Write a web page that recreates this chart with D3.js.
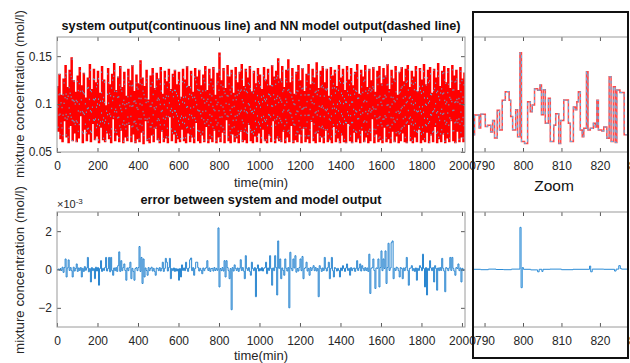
<!DOCTYPE html>
<html><head><meta charset="utf-8">
<script src="https://cdn.jsdelivr.net/npm/d3@7"></script>
<style>html,body{margin:0;padding:0;background:#fff;overflow:hidden}</style>
</head><body>
<svg id="chart" width="630" height="363"></svg>
<script>
// ---------- DATA ----------
// sampling grid of the long records (min)
const outputTime = d3.range(0, 2015, 5);
// system output (mol/l), one row per 100 min
const systemOutput = [
0.118,0.072,0.131,0.064,0.109,0.061,0.126,0.083,0.140,0.066,0.117,0.060,0.135,0.078,0.148,0.062,0.124,0.070,0.112,0.061,
0.129,0.065,0.138,0.088,0.119,0.060,0.132,0.074,0.106,0.062,0.127,0.069,0.141,0.061,0.115,0.080,0.136,0.063,0.122,0.067,
0.134,0.060,0.111,0.076,0.139,0.063,0.125,0.061,0.098,0.070,0.137,0.064,0.120,0.060,0.131,0.085,0.142,0.062,0.114,0.068,
0.128,0.061,0.139,0.073,0.117,0.060,0.133,0.066,0.108,0.062,0.136,0.079,0.124,0.061,0.140,0.069,0.113,0.060,0.130,0.064,
0.121,0.061,0.145,0.071,0.127,0.059,0.118,0.083,0.135,0.062,0.104,0.060,0.129,0.068,0.137,0.061,0.116,0.075,0.132,0.063,
0.126,0.060,0.138,0.072,0.110,0.061,0.134,0.065,0.123,0.060,0.136,0.087,0.115,0.062,0.131,0.069,0.135,0.060,0.120,0.064,
0.133,0.061,0.107,0.074,0.136,0.062,0.125,0.060,0.139,0.070,0.118,0.061,0.134,0.066,0.112,0.060,0.137,0.081,0.128,0.062,
0.135,0.060,0.119,0.068,0.130,0.061,0.139,0.077,0.114,0.060,0.136,0.064,0.126,0.061,0.138,0.073,0.109,0.060,0.132,0.066,
0.153,0.061,0.124,0.071,0.137,0.060,0.116,0.084,0.140,0.062,0.128,0.060,0.135,0.069,0.111,0.061,0.138,0.065,0.122,0.060,
0.133,0.072,0.141,0.061,0.118,0.063,0.136,0.060,0.127,0.079,0.139,0.062,0.113,0.060,0.134,0.067,0.121,0.061,0.137,0.070,
0.130,0.060,0.115,0.074,0.138,0.062,0.125,0.060,0.136,0.068,0.119,0.061,0.140,0.083,0.128,0.060,0.134,0.065,0.147,0.062,
0.126,0.061,0.139,0.072,0.117,0.060,0.135,0.066,0.146,0.061,0.122,0.078,0.137,0.060,0.110,0.063,0.133,0.061,0.140,0.069,
0.124,0.060,0.137,0.075,0.113,0.061,0.131,0.064,0.141,0.060,0.120,0.082,0.136,0.062,0.127,0.060,0.143,0.070,0.116,0.061,
0.134,0.066,0.139,0.060,0.122,0.073,0.136,0.061,0.108,0.063,0.138,0.060,0.129,0.077,0.135,0.061,0.118,0.065,0.140,0.060,
0.127,0.068,0.136,0.061,0.114,0.060,0.139,0.080,0.125,0.062,0.137,0.060,0.119,0.071,0.133,0.061,0.141,0.064,0.110,0.060,
0.135,0.073,0.128,0.061,0.140,0.066,0.117,0.060,0.136,0.062,0.124,0.085,0.138,0.060,0.112,0.069,0.134,0.061,0.139,0.063,
0.121,0.060,0.137,0.076,0.129,0.061,0.141,0.064,0.115,0.060,0.135,0.072,0.126,0.061,0.139,0.067,0.109,0.060,0.133,0.062,
0.138,0.070,0.123,0.061,0.136,0.060,0.140,0.079,0.117,0.062,0.134,0.060,0.128,0.066,0.139,0.061,0.113,0.074,0.137,0.060,
0.125,0.063,0.141,0.061,0.120,0.071,0.135,0.060,0.138,0.068,0.111,0.061,0.136,0.077,0.127,0.060,0.142,0.064,0.118,0.061,
0.134,0.069,0.139,0.060,0.122,0.065,0.137,0.061,0.116,0.083,0.140,0.062,0.129,0.060,0.135,0.072,0.114,0.061,0.138,0.066,
0.126,0.061,0.133];
// error between system and model output (x 10^-3 mol/l), same grid
const errorE3 = [
0,0.02,-0.03,0.05,-0.05,0.12,-0.15,0.1,0.55,-0.39,0.08,0.5,-0.05,0.1,-0.06,-0.39,0.12,-0.08,0.05,0.29,
-0.1,0.08,-0.05,0.1,-0.39,0.06,-0.1,0.15,-0.04,0.08,0.63,-0.12,0.05,-0.65,0.1,-0.06,0.05,-0.48,0.12,-0.08,
0.1,-0.82,0.05,0.46,-0.1,0.06,-0.05,0.1,0.63,-0.08,0.05,0.63,-0.12,0.63,-0.05,-0.3,0.08,-0.06,0.1,-0.1,
0.2,0.92,-0.1,0.46,-0.06,0.1,0.29,-0.05,-0.56,0.08,-0.06,0.1,0.38,-0.48,0.06,-0.1,-0.56,0.05,0.1,-0.06,
0.1,1.2,-0.1,0.63,-0.73,0.55,-0.39,0.08,-0.05,-0.3,0.1,-0.06,0.05,0.12,-0.08,0.06,-0.1,-0.3,0.08,0.05,
-0.06,0.1,-0.08,0.05,0.38,-0.1,0.06,0.58,0.38,-0.08,0.1,0.58,-0.48,0.05,-0.06,0.08,-0.1,0.05,-0.08,0.03,
-0.56,0.05,-0.39,0.24,-0.05,0.08,-0.06,0.38,0.05,-0.1,0.08,0.51,0.6,-0.06,0.1,-0.3,0.05,0.38,0.38,0.1,
-0.08,0.06,-0.05,-0.22,0.08,-0.06,0.05,0.1,0.46,-0.05,0.08,-0.1,0.05,0.06,-0.08,0.1,-0.05,0.06,-0.04,2.17,
-0.91,0.05,-0.06,0.1,-0.08,0.46,-0.39,0.46,0.1,-0.06,-0.48,0.05,-2.1,0.1,-0.08,0.24,0.06,-0.05,0.08,-0.1,
0.06,0.51,-0.05,0.1,-0.08,-0.48,0.72,0.06,-0.05,0.1,-0.1,-0.3,0.38,0.05,-0.06,0.1,-1.42,0.05,0.24,-0.08,
0.05,-0.06,0.1,-0.08,0.06,0.1,0.38,-0.22,0.08,-0.05,0.72,0.05,-0.82,0.08,-0.06,0.72,0.1,-1.33,1.49,0.06,
0.55,-0.48,0.08,-0.05,-0.3,0.55,0.06,-0.08,0.1,-2.0,0.9,0.05,-0.06,0.55,0.08,0.72,-0.14,0.05,-0.08,0.1,
0.55,-0.06,0.68,-0.48,0.05,0.1,0.38,-0.08,0.06,-0.3,0.1,-0.05,0.08,0.2,-0.06,0.1,-0.08,0.05,-1.42,0.2,
0.06,-0.1,0.08,-0.05,0.63,0.06,-0.08,0.1,0.38,-0.48,0.05,0.63,-0.06,-0.39,0.1,0.05,-0.08,0.06,-0.05,-0.39,
0.08,-0.06,0.2,0.05,-0.1,0.08,0.29,-0.05,0.06,-0.3,0.1,-0.06,0.05,0.08,-0.1,0.06,0.46,-0.05,0.08,0.29,
-0.08,0.2,0.05,-0.06,0.1,-0.05,0.08,-0.1,0.8,-1.25,0.06,0.1,0.55,-0.05,-0.99,0.08,0.06,0.55,-0.91,0.1,
0.97,-0.06,0.55,0.05,0.97,-0.73,0.1,1.37,-0.05,0.08,1.4,1.49,-0.48,0.06,-0.05,0.12,0.08,-0.06,-0.39,0.1,
0.05,-0.48,0.08,-0.06,0.1,0.63,-0.05,-0.82,0.06,0.08,0.2,-0.06,0.05,-0.1,0.08,-0.56,0.06,-0.05,0.2,0.1,
-0.06,0.8,0.05,-0.91,0.1,-1.33,0.06,-0.05,0.46,0.08,-0.06,0.1,-0.65,0.2,0.05,-1.08,0.08,-0.06,0.1,-0.05,
0.58,0.06,-0.08,-1.16,0.1,0.05,-0.06,0.08,0.63,-0.05,0.63,0.06,-0.08,-0.3,0.1,0.05,0.29,-0.06,0.08,-0.65,
0.06,-0.05,0.03];
// zoom window (change points of the step signal)
const zoomTime = [787,787.4,788.6,789.0,790.2,790.8,791.6,792.1,792.6,793.3,793.9,794.6,795.4,796.4,796.8,797.3,798.1,798.6,799.2,799.6,800.4,801.2,801.9,802.4,803.0,803.8,804.4,804.8,805.3,805.8,806.6,807.1,808.0,808.5,809.3,809.8,810.6,811.8,812.3,813.1,813.6,814.0,814.4,814.9,815.4,815.8,816.5,816.9,817.5,818.3,818.8,819.2,819.6,820.5,821.0,821.8,822.4,822.9,823.5,824.0,824.4,825.2,826.3,827.3];
const zoomOutput = [0.068,0.0885,0.075,0.0895,0.0765,0.078,0.071,0.083,0.0645,0.0935,0.073,0.104,0.113,0.104,0.087,0.073,0.094,0.066,0.1535,0.061,0.059,0.1025,0.092,0.099,0.116,0.1145,0.12,0.089,0.115,0.08,0.106,0.061,0.078,0.09,0.059,0.083,0.1042,0.08,0.061,0.097,0.094,0.1024,0.113,0.073,0.066,0.0747,0.1337,0.073,0.0747,0.08,0.076,0.104,0.073,0.072,0.076,0.0643,0.1285,0.061,0.118,0.06,0.1146,0.112,0.068,0.068];
const zoomErrTime = [787,789,791,793,795,797,799.2,799.5,799.8,800.1,802,803.8,804.2,804.9,805.2,807,810,813,817.3,817.6,818,821,823.8,824.2,824.9,825.3,825.6,827.3];
const zoomErrE3 = [0.01,-0.01,0.02,0,-0.01,0.02,2.2,-0.95,0.1,0.01,-0.02,-0.12,0.01,-0.1,0.01,0.02,-0.01,0.01,0.18,-0.12,0.02,0.01,-0.08,0.02,0.2,0.05,0.02,0.02];
// ticks
const mainTimeTicks = [0,200,400,600,800,1000,1200,1400,1600,1800,2000];
const zoomTimeTicks = [790,800,810,820,830];
const outputTicks = [0.05,0.1,0.15];
const errorTicks = [-2,0,2];
const outputTickLabels = ["0.05","0.1","0.15"];

// ---------- DRAW ----------
const FONT = "'Liberation Sans', Arial, Helvetica, sans-serif";
const svg = d3.select("#chart").style("font-family", FONT);

const xMain = d3.scaleLinear().domain([0, 2015]).range([57, 465]);
const xZoom = d3.scaleLinear().domain([787, 827.3]).range([473, 628]);
const yTop = d3.scaleLinear().domain([0.05, 0.17]).range([152, 37]);
const yBot = d3.scaleLinear().domain([-3, 3]).range([327, 212]);

const defs = svg.append("defs");
function clip(id, x, y, w, h) {
  defs.append("clipPath").attr("id", id).append("rect").attr("x", x).attr("y", y).attr("width", w).attr("height", h);
  return `url(#${id})`;
}

function styleAxis(g) {
  g.select(".domain").remove();
  g.selectAll(".tick line").attr("stroke", "#5a5a5a");
  g.selectAll(".tick text").attr("fill", "#262626").style("font-size", "12px").style("font-family", FONT);
}

function frameAxes(x, y, xTicks, yTicks, yFmt, xLabels, leftRight) {
  const [x0, x1] = x.range();
  const [y1, y0] = y.range();
  svg.append("g").attr("transform", `translate(0,${y1})`)
    .call(d3.axisBottom(x).tickValues(xTicks).tickSizeInner(-4).tickSizeOuter(0).tickPadding(9.5)
      .tickFormat(xLabels ? d3.format("d") : () => ""))
    .call(styleAxis);
  svg.append("g").attr("transform", `translate(0,${y0})`)
    .call(d3.axisTop(x).tickValues(xTicks.filter(v => x(v) <= x1)).tickSizeInner(-4).tickSizeOuter(0).tickFormat(() => ""))
    .call(styleAxis);
  if (leftRight) {
    svg.append("g").attr("transform", `translate(${x0},0)`)
      .call(d3.axisLeft(y).tickValues(yTicks).tickSizeInner(-4).tickSizeOuter(0).tickPadding(5).tickFormat(yFmt))
      .call(styleAxis);
    svg.append("g").attr("transform", `translate(${x1},0)`)
      .call(d3.axisRight(y).tickValues(yTicks).tickSizeInner(-4).tickSizeOuter(0).tickFormat(() => ""))
      .call(styleAxis);
  }
  svg.append("rect").attr("x", x0).attr("y", y0).attr("width", x1 - x0).attr("height", y1 - y0)
    .attr("fill", "none").attr("stroke", "#9a9a9a").attr("stroke-width", 1);
}

// ---- main output plot ----
const topClip = clip("cTop", 57, 37, 408, 115);
const lineTop = d3.line().x((d, i) => xMain(outputTime[i])).y(d => yTop(d)).curve(d3.curveStepAfter);
svg.append("path").attr("clip-path", topClip).datum(systemOutput).attr("d", lineTop)
  .attr("fill", "none").attr("stroke", "#ff0000").attr("stroke-width", 1.5);
svg.append("path").attr("clip-path", topClip).datum(systemOutput).attr("d", lineTop)
  .attr("fill", "none").attr("stroke", "#4DBEEE").attr("stroke-width", 1).attr("stroke-opacity", 0.9)
  .attr("stroke-dasharray", "1.4,19");
frameAxes(xMain, yTop, mainTimeTicks, outputTicks, (d, i) => outputTickLabels[i], true, true);

// ---- main error plot ----
const botClip = clip("cBot", 57, 212, 408, 115);
const lineBot = d3.line().x((d, i) => xMain(outputTime[i])).y(d => yBot(d)).curve(d3.curveStepAfter);
svg.append("path").attr("clip-path", botClip).datum(errorE3).attr("d", lineBot)
  .attr("fill", "none").attr("stroke", "#2a86d0").attr("stroke-width", 1);
frameAxes(xMain, yBot, mainTimeTicks, errorTicks, d3.format("d"), true, true);

// ---- zoom output ----
const zTopClip = clip("czTop", 473, 37, 155, 115);
const lineZ = d3.line().x((d, i) => xZoom(zoomTime[i])).y(d => yTop(d)).curve(d3.curveStepAfter);
svg.append("path").attr("clip-path", zTopClip).datum(zoomOutput).attr("d", lineZ)
  .attr("fill", "none").attr("stroke", "#ff4a4a").attr("stroke-width", 1.5);
svg.append("path").attr("clip-path", zTopClip).datum(zoomOutput).attr("d", lineZ)
  .attr("fill", "none").attr("stroke", "#5cb8ec").attr("stroke-width", 1).attr("stroke-dasharray", "3,3");
frameAxes(xZoom, yTop, zoomTimeTicks, outputTicks, null, true, false);

// ---- zoom error ----
const zBotClip = clip("czBot", 473, 212, 155, 115);
const lineZE = d3.line().x((d, i) => xZoom(zoomErrTime[i])).y(d => yBot(d)).curve(d3.curveStepAfter);
svg.append("path").attr("clip-path", zBotClip).datum(zoomErrE3).attr("d", lineZE)
  .attr("fill", "none").attr("stroke", "#2a8bd6").attr("stroke-width", 1);
frameAxes(xZoom, yBot, zoomTimeTicks, errorTicks, null, true, false);

// zoom frame
svg.append("rect").attr("x", 473).attr("y", 12).attr("width", 155).attr("height", 346)
  .attr("fill", "none").attr("stroke", "#111").attr("stroke-width", 2);
svg.append("text").attr("x", 554).attr("y", 191).attr("text-anchor", "middle")
  .style("font-size", "15.5px").attr("fill", "#111").text("Zoom");

// ---- texts ----
svg.append("text").attr("x", 261).attr("y", 30).attr("text-anchor", "middle")
  .style("font-size", "12.7px").style("font-weight", "bold").attr("fill", "#111")
  .text("system output(continuous line) and NN model output(dashed line)");
svg.append("text").attr("x", 261).attr("y", 204).attr("text-anchor", "middle")
  .style("font-size", "12.7px").style("font-weight", "bold").attr("fill", "#111")
  .text("error between system and model output");
svg.append("text").attr("x", 261).attr("y", 187).attr("text-anchor", "middle")
  .style("font-size", "13px").attr("fill", "#262626").text("time(min)");
svg.append("text").attr("x", 261).attr("y", 360).attr("text-anchor", "middle")
  .style("font-size", "13px").attr("fill", "#262626").text("time(min)");
[94, 270].forEach(cy => {
  svg.append("text").attr("transform", `translate(24,${cy}) rotate(-90)`).attr("text-anchor", "middle")
    .style("font-size", "13.3px").attr("fill", "#262626").text("mixture concentration (mol/l)");
});
const mult = svg.append("text").attr("x", 57).attr("y", 208).style("font-size", "11px").attr("fill", "#262626");
mult.append("tspan").text("×10");
mult.append("tspan").attr("dy", -4).style("font-size", "8px").text("-3");
</script>
</body></html>
